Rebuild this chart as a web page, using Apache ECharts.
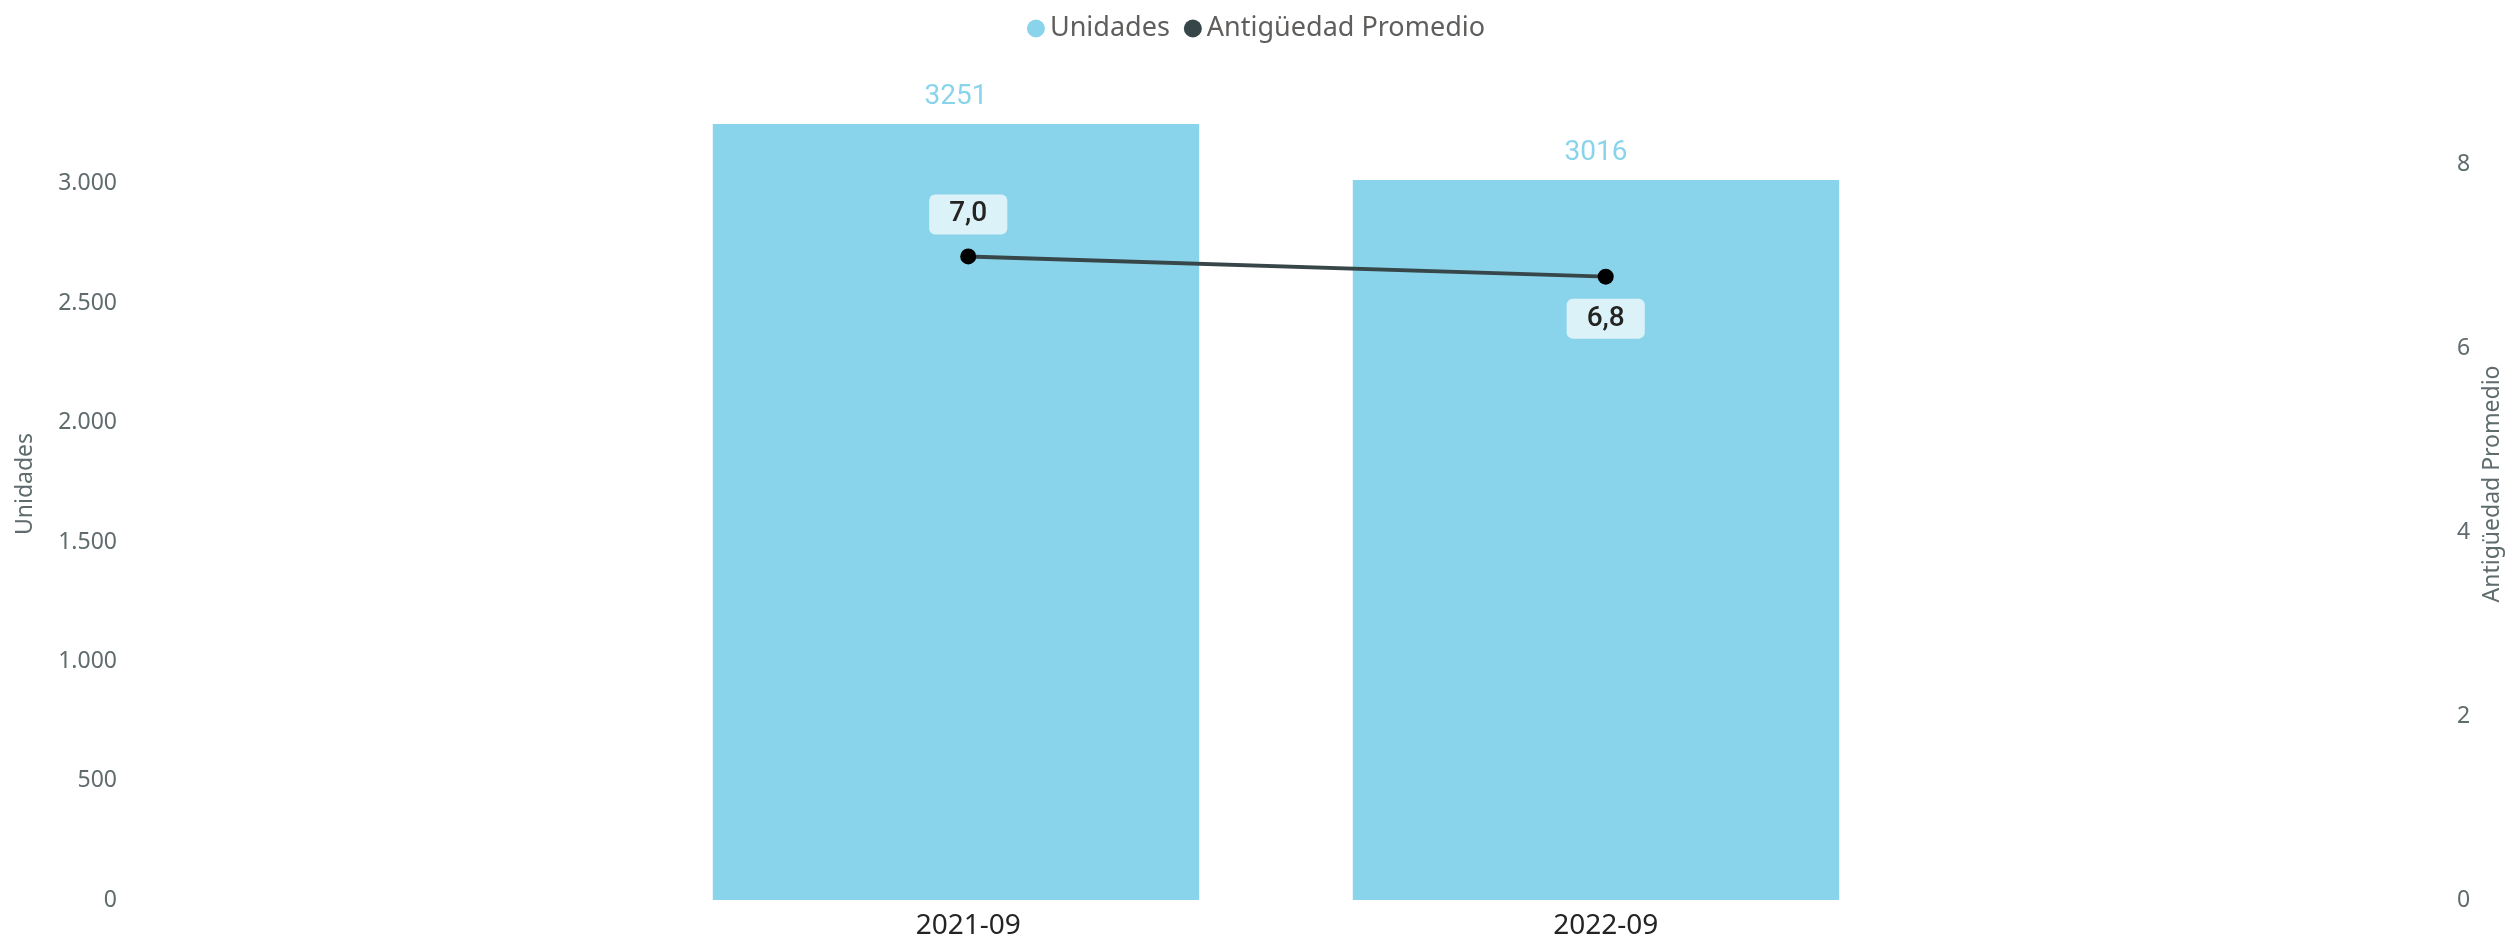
<!DOCTYPE html>
<html>
<head>
<meta charset="utf-8">
<script src="https://cdn.jsdelivr.net/npm/echarts@6/dist/echarts.min.js"></script>
<style>
  html, body { margin: 0; padding: 0; background: #fff; }
  #chart { width: 2512px; height: 941px; }
</style>
</head>
<body>
<div id="chart"></div>
<script>
// datos
const periodos = ["2021-09", "2022-09"];
const unidades = [3251, 3016];
const antiguedad = [7.0, 6.78];

const azul = "#8AD4EB";
const gris = "#5F6B6D";

const miles = (v) => String(v).replace(/\B(?=(\d{3})+(?!\d))/g, ".");
const coma = (v) => v.toFixed(1).replace(".", ",");

const getOption = () => ({
    animation: false,
    legend: {
        top: 10,
        left: "center",
        icon: "circle",
        itemWidth: 18,
        itemHeight: 18,
        itemGap: 14,
        textStyle: { fontFamily: "Noto Sans", fontSize: 27, color: "#605E5C" },
        data: [
            { name: "Unidades", itemStyle: { color: azul } },
            { name: "Antigüedad Promedio", itemStyle: { color: "#374649" } }
        ]
    },
    grid: [
        { left: 636, right: 596, top: 124, bottom: 41 },
        { left: 649.5, right: 582.5, top: 124, bottom: 41 }
    ],
    xAxis: [
        {
            type: "category", gridIndex: 0, data: periodos,
            axisLine: { show: false }, axisTick: { show: false }, axisLabel: { show: false }
        },
        {
            type: "category", gridIndex: 1, data: periodos,
            axisLine: { show: false }, axisTick: { show: false },
            axisLabel: { margin: 12, fontFamily: "Noto Sans", fontSize: 28, color: "#252423" }
        }
    ],
    yAxis: [
        {
            type: "value", gridIndex: 0, position: "left", offset: 511,
            min: 0, max: 3251, interval: 500,
            name: "Unidades", nameLocation: "middle", nameRotate: 90, nameGap: 88,
            nameTextStyle: { fontFamily: "Noto Sans", fontSize: 23, color: gris, padding: [0, 0, 0, 56] },
            splitLine: { show: false },
            axisLabel: { showMaxLabel: false, margin: 8, fontFamily: "Noto Sans", fontSize: 23, color: gris, formatter: miles }
        },
        {
            type: "value", gridIndex: 1, position: "right", offset: 524.5,
            min: 0, max: 8.44, interval: 2,
            name: "Antigüedad Promedio", nameLocation: "middle", nameRotate: 90, nameGap: 31,
            nameTextStyle: { fontFamily: "Noto Sans", fontSize: 23, color: gris, padding: [0, 0, 0, 56] },
            splitLine: { show: false },
            axisLabel: { showMaxLabel: false, margin: 8, fontFamily: "Noto Sans", fontSize: 23, color: gris }
        }
    ],
    series: [
        {
            name: "Unidades",
            type: "bar",
            xAxisIndex: 0,
            yAxisIndex: 0,
            barWidth: "76%",
            itemStyle: { color: azul },
            label: {
                show: true, position: "top", distance: 13,
                fontFamily: "Roboto", fontSize: 28, color: azul
            },
            data: unidades
        },
        {
            name: "Antigüedad Promedio",
            type: "line",
            xAxisIndex: 1,
            yAxisIndex: 1,
            symbol: "circle",
            symbolSize: 16,
            lineStyle: { color: "#374649", width: 4 },
            itemStyle: { color: "#000" },
            label: {
                show: true, distance: 14,
                fontFamily: "Roboto", fontWeight: 500, fontSize: 28, color: "#252423",
                backgroundColor: "#DCF2F9", borderRadius: 6, padding: [6, 20],
                formatter: (p) => coma(p.value)
            },
            data: antiguedad.map((v, i) => ({
                value: v,
                label: { position: i === 0 ? "top" : "bottom" }
            }))
        }
    ]
});

document.addEventListener("DOMContentLoaded", function() {
    const chart = echarts.init(document.getElementById("chart"));
    chart.setOption(getOption());
});
</script>
</body>
</html>
